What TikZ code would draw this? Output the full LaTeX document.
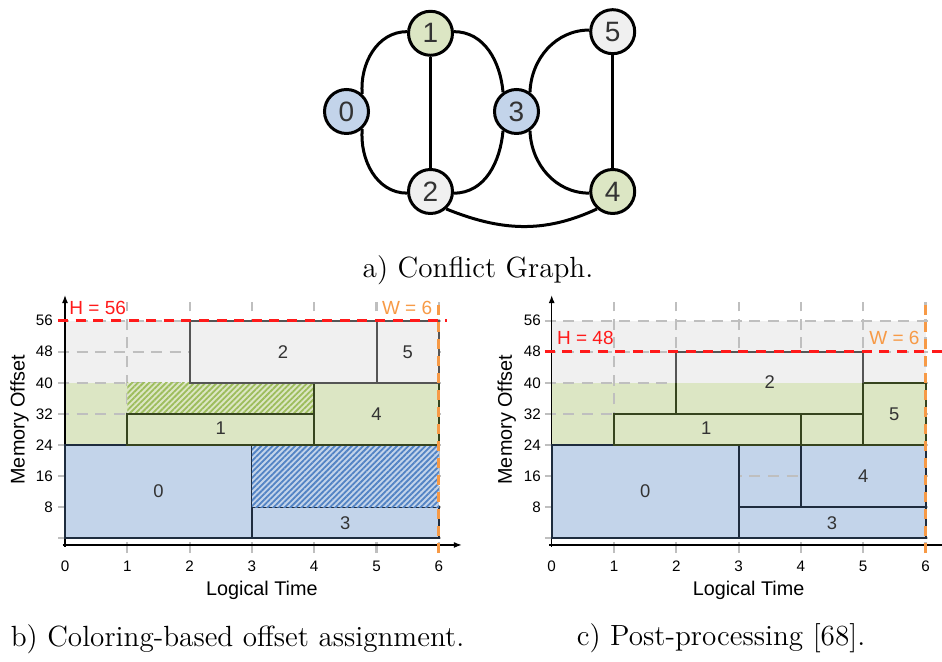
\documentclass[tikz,border=0pt]{standalone}
\usepackage{fontspec}
\newfontfamily\robo{Liberation Sans}
\usetikzlibrary{patterns.meta,arrows.meta}
\definecolor{cblue}{HTML}{C3D4EA}
\definecolor{cgreen}{HTML}{DCE6C4}
\definecolor{cgrey}{HTML}{F0F0F0}
\definecolor{bblue}{HTML}{1E2C3E}
\definecolor{bgreen}{HTML}{36441E}
\definecolor{bgrey}{HTML}{555555}
\definecolor{hblue}{HTML}{5283C4}
\definecolor{hgreen}{HTML}{9DBD5C}
\definecolor{gridc}{HTML}{BFBFBF}
\definecolor{hred}{HTML}{FF1A1A}
\definecolor{worange}{HTML}{F79A46}
\definecolor{txt}{HTML}{333333}
\tikzset{
 gnode/.style={circle, draw=black, line width=1.5pt, minimum size=22pt, inner sep=0pt, font=\robo\fontsize{14}{14}\selectfont, text=txt},
 gedge/.style={line width=1.5pt},
 gridln/.style={draw=gridc, line width=1.1pt, dash pattern=on 5.5pt off 3.8pt},
 rlabel/.style={font=\robo\fontsize{9.2}{10}\selectfont, text=txt, inner sep=0pt},
 ticklab/.style={font=\robo\fontsize{7.6}{8}\selectfont, text=black, inner sep=0pt},
 axlab/.style={font=\robo\fontsize{9.9}{11}\selectfont, inner sep=0pt},
 axis/.style={line width=0.65pt, -{Latex[length=4pt,width=3pt]}},
 hline/.style={draw=hred, line width=1.6pt, dash pattern=on 5pt off 3.8pt},
 wline/.style={draw=worange, line width=1.5pt, dash pattern=on 5pt off 3.5pt},
 hlab/.style={font=\robo\fontsize{9.5}{10}\selectfont, text=hred, inner sep=0pt},
 wlab/.style={font=\robo\fontsize{9.5}{10}\selectfont, text=worange, inner sep=0pt},
 bluebox/.style={fill=cblue, draw=bblue, line width=1pt},
 greenbox/.style={fill=cgreen, draw=bgreen, line width=1pt},
 greybox/.style={fill=cgrey, draw=bgrey, line width=1pt},
 bluehatch/.style={pattern={Lines[angle=45,distance=2pt,line width=0.9pt]}, pattern color=hblue},
 greenhatch/.style={pattern={Lines[angle=45,distance=2pt,line width=0.9pt]}, pattern color=hgreen},
 caption/.style={font=\fontsize{14.6}{17}\selectfont, inner sep=0pt}
}
\begin{document}
\begin{tikzpicture}[x=0.5pt,y=0.5pt]
\useasboundingbox (0,0) rectangle (942,662);

% ---------------- a) conflict graph ----------------
\node[gnode, fill=cblue]  (n0) at (346.5,550.5) {0};
\node[gnode, fill=cgreen] (n1) at (430.5,628.7) {1};
\node[gnode, fill=cgrey]  (n2) at (430.5,470.5) {2};
\node[gnode, fill=cblue]  (n3) at (516.5,550.5) {3};
\node[gnode, fill=cgreen] (n4) at (612.7,470.5) {4};
\node[gnode, fill=cgrey]  (n5) at (612.7,630.3) {5};
\draw[gedge] (n0.48) to[out=95,in=180] (n1.176);
\draw[gedge] (n0.-48) to[out=-95,in=180] (n2.184);
\draw[gedge] (n1) -- (n2);
\draw[gedge] (n1.4) to[out=0,in=95] (n3.125);
\draw[gedge] (n2.-4) to[out=0,in=-95] (n3.-125);
\draw[gedge] (n3.55) to[out=88,in=180] (n5.176);
\draw[gedge] (n3.-55) to[out=-88,in=180] (n4.184);
\draw[gedge] (n5) -- (n4);
\draw[gedge] (n2.-48) to[out=-22,in=-155] (n4.-132);
\node[caption] (capa) at (478,392) {a) Conflict Graph.};

% ---------------- b) coloring-based ----------------
\begin{scope}[shift={(32.5pt,61.85pt)}, x=31.15pt, y=1.943pt]
 \fill[cgrey] (0,40) rectangle (6,56);
 \fill[cgreen] (0,24) rectangle (6,40);
 \fill[cblue] (0,0) rectangle (6,24);
 \foreach \v in {0,8,...,56} \draw[gridln] (-0.11,\v) -- (6.13,\v);
 \foreach \u in {1,...,6} \draw[gridln] (\u,-3.8) -- (\u,60.8);
 \draw[axis] (0,-2.2) -- (0,62.6);
 \draw[axis] (-0.04,-1.72) -- (6.37,-1.72);
 % blocks
 \draw[bluebox] (0,0) rectangle (3,24);
 \draw[bluebox] (3,0) rectangle (6,8);
 \fill[cblue] (3,8) rectangle (6,24);
 \fill[bluehatch] (3,8) rectangle (6,24);
 \fill[cgreen] (1,32) rectangle (4,40);
 \fill[greenhatch] (1,32) rectangle (4,40);
 \draw[greenbox] (1,24) rectangle (4,32);
 \draw[greenbox] (4,24) rectangle (6,40);
 \draw[greybox] (2,40) rectangle (5,56);
 \draw[greybox] (5,40) rectangle (6,56);
 \node[rlabel] (b0) at (1.5,12) {0};
 \node[rlabel] (b1) at (2.5,28.3) {1};
 \node[rlabel] (b2) at (3.5,48) {2};
 \node[rlabel] (b3) at (4.5,4) {3};
 \node[rlabel] (b4) at (5.0,32) {4};
 \node[rlabel] (b5) at (5.5,48) {5};
 \draw[hline] (-0.11,56) -- (6.13,56);
 \draw[wline] (6,-3.8) -- (6,60.8);
 \node[hlab, anchor=west] (bh) at (0.065,59.4) {H = 56};
 \node[wlab, anchor=east] (bw) at (5.9,59.4) {W = 6};
 \foreach \v in {8,16,...,56} \node[ticklab, anchor=east] (by\v) at (-0.19,\v) {\v};
 \foreach \u in {0,...,6} \node[ticklab] (bx\u) at (\u,-7.1) {\u};
 \node[axlab] (bxl) at (3.16,-13.3) {Logical Time};
 \node[axlab, rotate=90] (byl) at (-0.73,30.5) {Memory Offset};
\end{scope}
\node[caption] (capb) at (237.5,23) {b) Coloring-based offset assignment.};

% ---------------- c) post-processing ----------------
\begin{scope}[shift={(275.85pt,61.85pt)}, x=31.15pt, y=1.943pt]
 \fill[cgrey] (0,40) rectangle (6,56);
 \fill[cgreen] (0,24) rectangle (6,40);
 \fill[cblue] (0,0) rectangle (6,24);
 \foreach \v in {0,8,...,56} \draw[gridln] (-0.11,\v) -- (6.12,\v);
 \foreach \u in {1,...,6} \draw[gridln] (\u,-3.8) -- (\u,60.8);
 \draw[axis] (0,-2.2) -- (0,62.6);
 \draw[line width=0.65pt] (-0.04,-1.72) -- (6.27,-1.72);
 % blocks
 \draw[bluebox] (0,0) rectangle (3,24);
 \draw[bluebox] (3,0) rectangle (6,8);
 \draw[bluebox] (4,8) rectangle (6,24);
 \draw[greenbox] (1,24) rectangle (4,32);
 \draw[greenbox] (5,24) rectangle (6,40);
 \fill[cgrey] (2,40) rectangle (5,48);
 \fill[cgreen] (2,32) rectangle (5,40);
 \draw[bgrey, line width=1pt] (2,40) -- (2,48) -- (5,48) -- (5,40);
 \draw[bgreen, line width=1pt] (2,40) -- (2,32) -- (5,32) -- (5,40);
 \draw[bgreen, line width=1pt] (4,24) -- (5,24);
 \node[rlabel] (c0) at (1.5,12) {0};
 \node[rlabel] (c1) at (2.48,28.3) {1};
 \node[rlabel] (c2) at (3.5,40.2) {2};
 \node[rlabel] (c3) at (4.5,4) {3};
 \node[rlabel] (c4) at (5.0,16) {4};
 \node[rlabel] (c5) at (5.5,32) {5};
 \draw[hline] (-0.11,48) -- (6.27,48);
 \draw[wline] (6,-3.8) -- (6,60.8);
 \node[hlab, anchor=west] (ch) at (0.08,51.5) {H = 48};
 \node[wlab, anchor=east] (cw) at (5.91,51.5) {W = 6};
 \foreach \v in {8,16,...,56} \node[ticklab, anchor=east] (cy\v) at (-0.17,\v) {\v};
 \foreach \u in {0,...,6} \node[ticklab] (cx\u) at (\u,-7.1) {\u};
 \node[axlab] (cxl) at (3.16,-13.3) {Logical Time};
 \node[axlab, rotate=90] (cyl) at (-0.72,30.5) {Memory Offset};
\end{scope}
\node[caption] (capc) at (721,23.5) {c) Post-processing [68].};
\end{tikzpicture}
\end{document}
